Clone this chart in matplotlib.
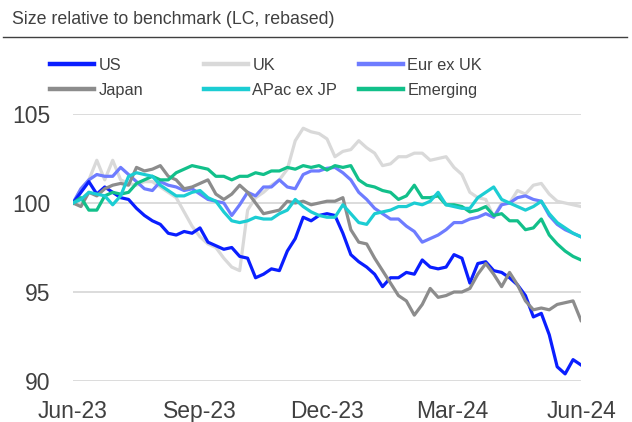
import matplotlib
matplotlib.use("Agg")
import matplotlib.pyplot as plt
from matplotlib.lines import Line2D
import pandas as pd

plt.rcParams['font.family'] = ['Liberation Sans', 'DejaVu Sans']

start_date = "2023-06-30"
end_date = "2024-06-28"

us = [100.0, 100.6, 101.2, 100.5, 100.9, 100.6, 100.3, 100.2, 99.7, 99.3,
      99.0, 98.8, 98.3, 98.2, 98.4, 98.3, 98.6, 97.8, 97.6, 97.4,
      97.5, 97.0, 96.9, 95.8, 96.0, 96.3, 96.2, 97.3, 98.0, 99.2,
      99.0, 99.3, 99.4, 99.3, 98.3, 97.1, 96.7, 96.4, 96.0, 95.3,
      95.8, 95.8, 96.1, 96.0, 96.8, 96.4, 96.3, 96.4, 97.1, 96.9,
      95.5, 96.6, 96.7, 96.2, 96.1, 95.8, 95.4, 94.8, 93.6, 93.8,
      92.6, 90.8, 90.4, 91.2, 90.9]
uk = [100.0, 100.8, 101.3, 102.4, 101.3, 102.4, 101.3, 101.1, 101.0, 101.2,
      101.2, 100.9, 100.6, 100.3, 99.5, 98.7, 98.1, 97.7, 97.5, 96.9,
      96.4, 96.2, 99.6, 100.3, 100.6, 101.0, 101.3, 101.9, 103.5, 104.2,
      104.0, 103.9, 103.6, 102.6, 102.9, 103.0, 103.5, 103.1, 102.8, 102.1,
      102.2, 102.6, 102.6, 102.8, 102.8, 102.4, 102.5, 102.6, 102.0, 101.6,
      100.6, 100.3, 100.2, 99.2, 100.0, 100.0, 100.7, 100.5, 101.0, 101.1,
      100.5, 100.1, 100.0, 99.9, 99.8]
eur = [100.0, 100.8, 101.3, 101.6, 101.5, 101.5, 102.0, 101.6, 101.2, 100.8,
       100.7, 101.2, 101.0, 100.9, 100.7, 100.8, 100.5, 100.2, 100.1, 100.0,
       99.3, 99.9, 100.6, 100.4, 100.9, 100.9, 101.3, 100.9, 100.8, 101.6,
       101.8, 101.8, 101.95, 102.0, 101.7, 101.3, 100.6, 100.2, 99.7, 99.4,
       99.1, 99.1, 98.7, 98.4, 97.8, 98.0, 98.2, 98.5, 98.9, 98.9,
       99.1, 99.2, 99.4, 99.2, 99.9, 100.0, 100.3, 100.4, 100.2, 100.1,
       99.3, 98.8, 98.5, 98.3, 98.1]
japan = [100.0, 99.8, 100.6, 100.4, 100.8, 101.0, 101.1, 101.0, 102.0, 101.8,
         101.9, 102.1, 101.5, 101.3, 100.8, 100.9, 101.1, 101.3, 100.5, 100.2,
         100.5, 101.0, 100.6, 100.0, 99.4, 99.5, 99.6, 100.1, 100.0, 100.1,
         99.9, 100.0, 100.1, 100.1, 100.3, 98.5, 97.8, 97.7, 96.9, 96.2,
         95.5, 94.8, 94.5, 93.7, 94.3, 95.2, 94.7, 94.8, 95.0, 95.0,
         95.2, 96.0, 96.6, 96.0, 95.3, 96.1, 95.4, 94.5, 94.0, 94.1,
         94.0, 94.3, 94.4, 94.5, 93.4]
apac = [100.0, 100.2, 100.6, 100.5, 100.4, 99.9, 100.4, 101.5, 101.7, 101.6,
        101.5, 101.0, 100.7, 100.4, 100.4, 100.6, 100.7, 100.3, 100.1, 99.5,
        99.0, 98.9, 99.0, 99.2, 99.1, 99.1, 99.4, 99.6, 100.2, 99.8,
        99.5, 99.3, 99.2, 99.2, 99.9, 99.4, 98.9, 98.8, 99.4, 99.5,
        99.6, 99.8, 99.8, 100.0, 99.9, 100.1, 100.6, 99.9, 99.8, 99.7,
        99.7, 100.3, 100.6, 100.9, 100.2, 100.0, 99.8, 99.6, 99.8, 100.1,
        99.4, 98.9, 98.6, 98.3, 98.1]
emerging = [100.0, 100.3, 99.6, 99.6, 100.4, 100.6, 100.5, 100.6, 101.1, 101.3,
            101.5, 101.3, 101.3, 101.7, 101.9, 102.1, 102.0, 101.9, 101.5, 101.5,
            101.3, 101.5, 101.5, 101.7, 101.6, 101.8, 101.8, 102.0, 101.9, 102.1,
            102.0, 102.1, 101.85, 102.1, 102.0, 102.1, 101.3, 101.0, 100.9, 100.7,
            100.6, 100.2, 100.4, 101.0, 100.3, 100.3, 100.4, 99.9, 99.9, 99.8,
            99.5, 99.6, 99.8, 99.3, 99.4, 99.0, 99.0, 98.5, 98.6, 99.1,
            98.2, 97.7, 97.3, 97.0, 96.8]

tick_dates = ["2023-06-30", "2023-09-29", "2023-12-29", "2024-03-28", "2024-06-28"]
tick_labels = ["Jun-23", "Sep-23", "Dec-23", "Mar-24", "Jun-24"]
y_ticks = [90, 95, 100, 105]

dates = pd.date_range(start_date, end_date, periods=len(us))

series = [
    ("UK", uk, "#d9d9d9", 1),
    ("Eur ex UK", eur, "#6e7cff", 2),
    ("US", us, "#0a1eff", 3),
    ("Japan", japan, "#8c8c8c", 4),
    ("Emerging", emerging, "#12c08a", 5),
    ("APac ex JP", apac, "#1ccdd3", 6),
]

W, H = 632, 422
fig = plt.figure(figsize=(W / 100, H / 100), dpi=100)
ax = fig.add_axes([73 / W, 1 - 381 / H, (581 - 73) / W, (381 - 114) / H])

colors = {}
for name, vals, col, z in series:
    ax.plot(dates, vals, color=col, lw=2.3, zorder=z, solid_joinstyle='round')
    colors[name] = col

ax.set_xlim(pd.Timestamp(start_date), pd.Timestamp(end_date))
ax.set_ylim(90, 105)
ax.set_yticks(y_ticks)
ax.set_yticklabels([str(v) for v in y_ticks])
ax.set_xticks(pd.to_datetime(tick_dates))
ax.set_xticklabels(tick_labels)
ax.grid(axis='y', color='#d9d9d9', lw=1.3, zorder=0)
ax.set_axisbelow(True)
for s in ax.spines.values():
    s.set_visible(False)
ax.tick_params(axis='both', length=0, labelsize=16.5, colors='#404040')
ax.tick_params(axis='y', pad=16)
ax.tick_params(axis='x', pad=14)

fig.text(12 / W, 1 - 19 / H, "Size relative to benchmark (LC, rebased)",
         fontsize=12.8, color='#404040', va='center', ha='left')
fig.add_artist(Line2D([3 / W, 627 / W], [1 - 37 / H, 1 - 37 / H],
                      transform=fig.transFigure, color='#404040', lw=1))

cols = [(50, ["US", "Japan"]), (204, ["UK", "APac ex JP"]), (359, ["Eur ex UK", "Emerging"])]
for xpx, names in cols:
    handles = [Line2D([0], [0], color=colors[n], lw=3.2) for n in names]
    fig.legend(handles, names, loc='upper left',
               bbox_to_anchor=(xpx / W, 1 - 58 / H), bbox_transform=fig.transFigure,
               frameon=False, borderpad=0, borderaxespad=0, handlelength=2.7,
               handletextpad=0.25, labelspacing=0.62, fontsize=11.8,
               labelcolor='#404040')

fig.savefig("out.png", dpi=100)
